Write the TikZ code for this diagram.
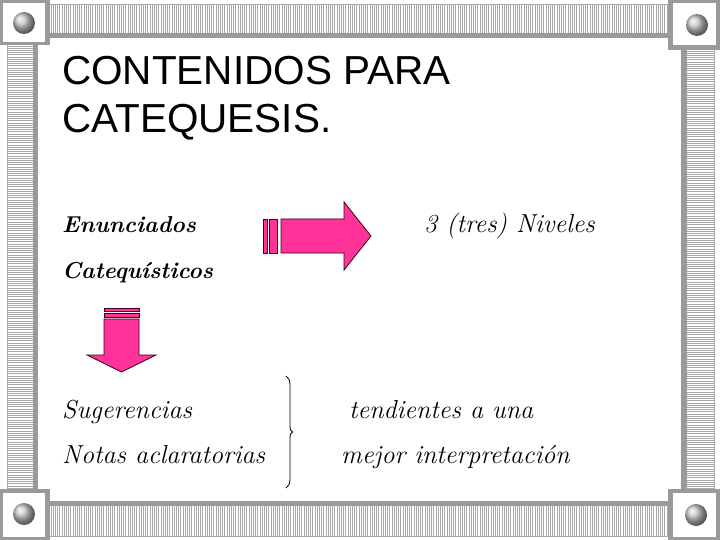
\documentclass[tikz,border=0pt]{standalone}
\usepackage{fontspec}
\newfontfamily\arialf{Liberation Sans}
\definecolor{band}{HTML}{9A9A9A}
\definecolor{stripec}{HTML}{A8A8A8}
\definecolor{pinkc}{HTML}{FF3399}
\definecolor{edgec}{HTML}{3A0018}
\tikzset{
  stripe/.style={stripec, line width=0.7pt},
  bandfill/.style={fill=band},
  pinkshape/.style={fill=pinkc, draw=edgec, line width=0.8pt, line join=miter},
  sphere/.style={ball color=gray!45},
  titletxt/.style={font=\arialf\fontsize{40.5}{48}\selectfont, anchor=base west, inner sep=0pt},
  scripttxt/.style={font=\fontsize{23}{30}\selectfont\bfseries\itshape, anchor=base west, inner sep=0pt},
  itxt/.style={font=\fontsize{26}{32}\selectfont\itshape, anchor=base west, inner sep=0pt},
}
\begin{document}
\begin{tikzpicture}[x=1pt,y=-1pt]
\useasboundingbox (0,0) rectangle (720,540);
\fill[white] (0,0) rectangle (720,540);
% top bar
\draw[stripec, line width=0.8pt] (50,4.5) -- (668,4.5);
\foreach \x in {51,53.2,...,667} \draw[stripe] (\x,5) -- (\x,33);
\fill[bandfill] (50,33) rectangle (668,38);
% bottom bar
\fill[bandfill] (50,501) rectangle (668,506);
\foreach \x in {51,53.2,...,667} \draw[stripe] (\x,506) -- (\x,536);
\draw[stripec, line width=0.8pt] (50,536.5) -- (668,536.5);
% left bar
\draw[stripec, line width=0.8pt] (7,45) -- (7,489);
\foreach \y in {46,48.2,...,489} \draw[stripe] (7,\y) -- (33,\y);
\fill[bandfill] (33,45) rectangle (38,489);
% right bar
\fill[bandfill] (681,50) rectangle (687,489);
\foreach \y in {51,53.2,...,489} \draw[stripe] (687,\y) -- (714,\y);
\draw[stripec, line width=0.8pt] (714.5,50) -- (714.5,489);
% corner boxes
\fill[bandfill] (0,0) rectangle (50,45);
\fill[white] (3,3) rectangle (45,42);
\shade[sphere] (24,23) circle (11);
\fill[bandfill] (668,0) rectangle (720,50);
\fill[white] (673,3) rectangle (716,45);
\shade[sphere] (697,25) circle (11);
\fill[bandfill] (0,489) rectangle (50,540);
\fill[white] (3,493) rectangle (45,537);
\shade[sphere] (24,514) circle (11);
\fill[bandfill] (668,489) rectangle (720,540);
\fill[white] (673,493) rectangle (716,537);
\shade[sphere] (696,515) circle (11);
% title
\node[titletxt] (t1) at (62,85) {CONTENIDOS PARA};
\node[titletxt] (t2) at (62,133) {CATEQUESIS.};
% texts
\node[scripttxt] (e1) at (62,233) {Enunciados};
\node[scripttxt] (e2) at (62,278) {Catequísticos};
\node[itxt] (n1) at (424,233) {3 (tres)\ Niveles};
\node[itxt] (s1) at (62,418) {Sugerencias};
\node[itxt] (s2) at (62,463) {Notas aclaratorias};
\node[itxt] (d1) at (349,418) {tendientes a una};
\node[itxt] (d2) at (341,463) {mejor interpretación};
% right arrow
\draw[pinkshape] (263,219) rectangle (267,253);
\draw[pinkshape] (269.5,219) rectangle (277,253);
\draw[pinkshape] (281,219) -- (344,219) -- (344,202) -- (371,236) -- (344,270) -- (344,253) -- (281,253) -- cycle;
% down arrow
\draw[pinkshape] (104,308.5) rectangle (139,311);
\draw[pinkshape] (104,313) rectangle (139,317);
\draw[pinkshape] (104,319) -- (139,319) -- (139,355) -- (156,355) -- (121.5,372) -- (87,355) -- (104,355) -- cycle;
% brace
\draw[black, line width=0.8pt] (286,376) .. controls (289,378) and (290,380) .. (290,386)
  -- (290,426) .. controls (290,430) and (291,431) .. (292.5,432)
  .. controls (291,433) and (290,434) .. (290,438)
  -- (290,478) .. controls (290,484) and (289,486) .. (286,488);
\end{tikzpicture}
\end{document}
